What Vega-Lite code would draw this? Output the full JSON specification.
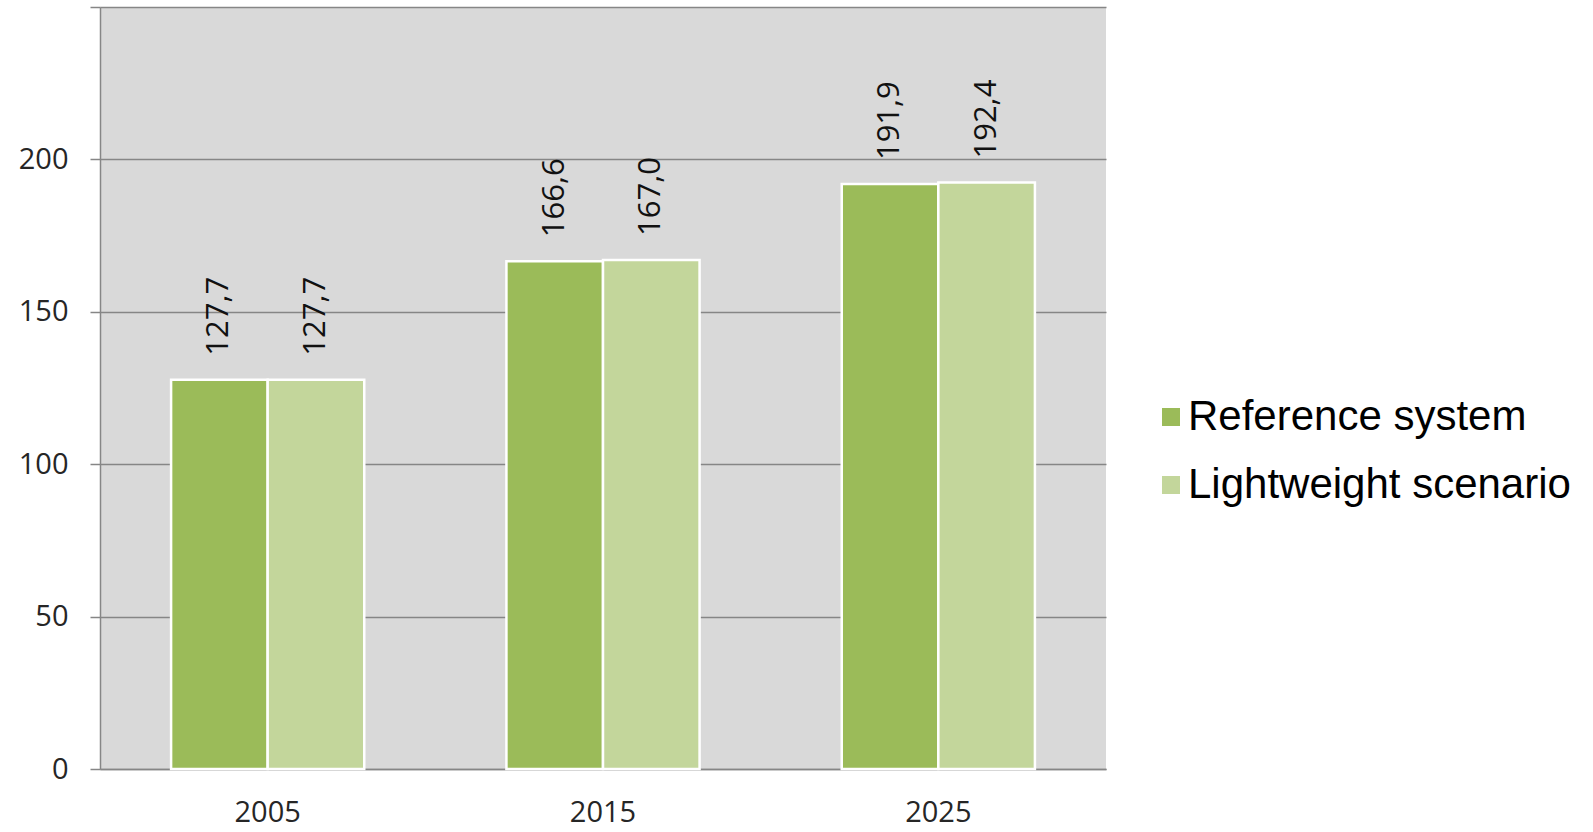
{
  "$schema": "https://vega.github.io/schema/vega-lite/v6.json",
  "autosize": {"type": "none"},
  "padding": {"left": 100, "top": 7, "right": 487, "bottom": 63},
  "width": 1006,
  "height": 762,
  "background": "#ffffff",
  "data": {
    "values": [
      {"year": "2005", "series": "Reference system", "value": 127.7},
      {"year": "2005", "series": "Lightweight scenario", "value": 127.7},
      {"year": "2015", "series": "Reference system", "value": 166.6},
      {"year": "2015", "series": "Lightweight scenario", "value": 167.0},
      {"year": "2025", "series": "Reference system", "value": 191.9},
      {"year": "2025", "series": "Lightweight scenario", "value": 192.4}
    ]
  },
  "encoding": {
    "x": {
      "field": "year",
      "type": "nominal",
      "scale": {"paddingInner": 0.424, "paddingOuter": 0.212},
      "axis": {
        "title": null,
        "labelAngle": 0,
        "labelFont": "Open Sans",
        "labelFontSize": 29,
        "labelColor": "#262626",
        "labelPadding": 29,
        "ticks": false,
        "domainColor": "#868686",
        "domainWidth": 1.5
      }
    },
    "xOffset": {
      "field": "series",
      "type": "nominal",
      "sort": ["Reference system", "Lightweight scenario"],
      "scale": {"paddingInner": 0, "paddingOuter": 0}
    },
    "y": {
      "field": "value",
      "type": "quantitative",
      "scale": {"domain": [0, 250], "nice": false},
      "axis": {
        "title": null,
        "values": [0, 50, 100, 150, 200, 250],
        "labelExpr": "datum.value == 250 ? '' : datum.label",
        "labelFont": "Open Sans",
        "labelFontSize": 29,
        "labelColor": "#262626",
        "labelPadding": 22,
        "tickSize": 10,
        "tickColor": "#868686",
        "tickWidth": 1.5,
        "domainColor": "#868686",
        "domainWidth": 1.5,
        "grid": true,
        "gridColor": "#868686",
        "gridWidth": 1.5,
        "gridOpacity": 1
      }
    }
  },
  "layer": [
    {
      "mark": {"type": "bar", "stroke": "#ffffff", "strokeWidth": 2.5},
      "encoding": {
        "color": {
          "field": "series",
          "type": "nominal",
          "scale": {
            "domain": ["Reference system", "Lightweight scenario"],
            "range": ["#9bbb59", "#c3d69b"]
          },
          "legend": {
            "title": null,
            "orient": "none",
            "legendX": 1050,
            "legendY": 389,
            "symbolType": "square",
            "symbolSize": 324,
            "symbolStrokeWidth": 0,
            "labelFont": "Liberation Sans",
            "labelFontSize": 42,
            "labelColor": "#000000",
            "labelOffset": -4,
            "rowPadding": 26,
            "padding": 0,
            "labelLimit": 600
          }
        }
      }
    },
    {
      "mark": {
        "type": "text",
        "angle": 270,
        "align": "left",
        "baseline": "middle",
        "dx": 24,
        "font": "Open Sans",
        "fontSize": 31,
        "color": "#111111"
      },
      "encoding": {
        "text": {"field": "value", "type": "quantitative", "format": ".1f"}
      }
    }
  ],
  "config": {
    "view": {"fill": "#d9d9d9", "stroke": null},
    "locale": {
      "number": {
        "decimal": ",",
        "thousands": ".",
        "grouping": [3],
        "currency": ["", " €"]
      }
    }
  }
}
